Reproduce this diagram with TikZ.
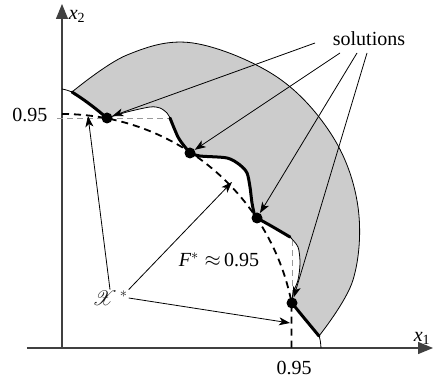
\documentclass[tikz,border=0pt]{standalone}
\usepackage{fontspec}
\setmainfont{Liberation Serif}
\usepackage{mathrsfs}
\usetikzlibrary{arrows.meta}
\begin{document}
\begin{tikzpicture}[x=1pt,y=1pt,
  thinline/.style={line width=0.8pt},
  thickseg/.style={line width=3pt, line cap=round},
  front/.style={line width=1.8pt, dash pattern=on 7pt off 5pt},
  guide/.style={line width=0.8pt, black!40, dash pattern=on 6pt off 4pt},
  dot/.style={circle, fill=black, inner sep=0pt, minimum size=11pt},
  ptr/.style={line width=0.8pt, -{Stealth[length=11pt,width=8pt,inset=3pt]}},
  axis/.style={line width=1.2pt, black!75, -{Triangle[length=15pt,width=12pt]}},
  lbl/.style={font=\fontsize{20}{24}\selectfont, inner sep=0pt}]
\useasboundingbox (-62,-34) rectangle (373,348);

% shaded region
\fill[black!20] plot[smooth, tension=0.6] coordinates {(10,256) (65,293) (131,305) (215,271) (271,211) (296,141) (291,68) (257,12)}
  -- plot[smooth] coordinates {(257,12) (238,35) (230,45) (231,55) (236,68) (238,85) (236,101) (228,111) (211,121) (195,130) (193,131) (190,145) (188,161) (185,175) (178,183) (165,190) (138,192) (128,195) (123,201) (116,211) (108,230) (105,235) (98,240) (88,241) (65,236) (45,230) (34,239) (22,248) (10,256)} -- cycle;

% axes
\coordinate (o) at (0,0);
\coordinate (ytop) at (0,344);
\coordinate (xl) at (-35,0);
\coordinate (xr) at (371,0);
\draw[axis] (o) -- (ytop);
\draw[axis] (xl) -- (xr);

% guide lines
\coordinate (g1a) at (-5,230);
\coordinate (g1b) at (108,230);
\coordinate (g2a) at (230,108);
\coordinate (g2b) at (230,46);
\draw[guide] (g1a) -- (g1b);
\draw[guide] (g2a) -- (g2b);

% Pareto front
\draw[front] (0,234) arc[start angle=90, end angle=11.3, radius=234] -- (229.5,0);

% outer boundary
\draw[thinline] plot[smooth, tension=0.6] coordinates {(10,256) (65,293) (131,305) (215,271) (271,211) (296,141) (291,68) (257,12)};

% inner boundary
\draw[thinline] (0,259) to[out=-10,in=160] (10,256);
\draw[thickseg] plot[smooth] coordinates {(10,256) (22,248) (34,239) (45,230)};
\draw[thinline] plot[smooth] coordinates {(45,230) (65,236) (88,241) (98,240) (105,235) (108,230)};
\draw[thickseg] plot[smooth] coordinates {(108,230) (116,211) (123,201) (128,195)};
\draw[thickseg] plot[smooth] coordinates {(128,195) (138,192) (165,190) (178,183) (185,175) (188,161) (190,145) (193,131) (195,130)};
\draw[thickseg] plot[smooth] coordinates {(195,130) (211,121) (228,111)};
\draw[thinline] plot[smooth] coordinates {(228,111) (236,101) (238,85) (236,68) (231,55) (230,45)};
\draw[thickseg] plot[smooth] coordinates {(230,45) (238,35) (257,12)};
\draw[thinline] (257,12) to[out=-70,in=95] (259,0);

% solutions
\node[dot] (d1) at (45,230) {};
\node[dot] (d2) at (128,195) {};
\node[dot] (d3) at (195,130) {};
\node[dot] (d4) at (230,45) {};

% labels
\node[lbl] (x2) at (15,332) {\textit{x}\textsubscript{2}};
\node[lbl] (x1) at (360,10) {\textit{x}\textsubscript{1}};
\node[lbl] (l95a) at (-32,233) {0.95};
\node[lbl] (l95b) at (232,-20) {0.95};
\node[lbl] (sol) at (307,309) {solutions};
\node[lbl] (fs) at (157,88) {\textit{F}$^{*}\approx$\,0.95};
\node[lbl, inner sep=1pt, text=black!90, font=\fontsize{20}{24}\selectfont] (xs) at (48,50) {$\mathscr{X}^{\,*}$};

% arrows from "solutions"
\coordinate (s1) at (253,305);
\coordinate (s2) at (278,295);
\coordinate (s3) at (295,295);
\coordinate (s4) at (305,295);
\draw[ptr] (s1) -- (d1);
\draw[ptr] (s2) -- (d2);
\draw[ptr] (s3) -- (d3);
\draw[ptr] (s4) -- (d4);

% arrows from X*
\coordinate (f1) at (26,232);
\coordinate (f2) at (170,166);
\coordinate (f3) at (228,25);
\draw[ptr] (xs.north) -- (f1);
\draw[ptr] (xs.north east) -- (f2);
\draw[ptr] (xs.east) -- (f3);
\end{tikzpicture}
\end{document}
